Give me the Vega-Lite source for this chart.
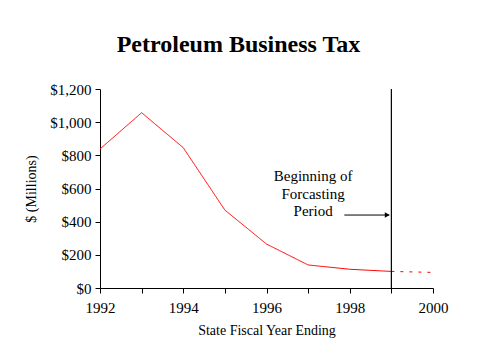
{
  "$schema": "https://vega.github.io/schema/vega-lite/v6.json",
  "autosize": "none",
  "width": 333,
  "height": 199,
  "padding": {"left": 100, "top": 89, "right": 46, "bottom": 71},
  "background": "white",
  "title": {
    "text": "Petroleum Business Tax",
    "font": "Liberation Serif",
    "fontSize": 24,
    "fontWeight": "bold",
    "color": "black",
    "anchor": "middle",
    "dx": -28,
    "offset": 25
  },
  "config": {
    "view": {"stroke": null},
    "font": "Liberation Serif",
    "axis": {
      "domainColor": "black",
      "tickColor": "black",
      "labelColor": "black",
      "titleColor": "black",
      "labelFont": "Liberation Serif",
      "titleFont": "Liberation Serif",
      "labelFontSize": 15,
      "titleFontSize": 14,
      "titleFontWeight": "normal",
      "grid": false,
      "tickSize": 5
    }
  },
  "encoding": {
    "x": {
      "field": "year", "type": "quantitative",
      "scale": {"domain": [1992, 2000], "nice": false, "zero": false},
      "axis": {
        "values": [1992, 1993, 1994, 1995, 1996, 1997, 1998, 1999, 2000],
        "labelExpr": "datum.value % 2 == 0 ? format(datum.value, 'd') : ''",
        "title": "State Fiscal Year Ending",
        "labelPadding": 7,
        "titlePadding": 8,
        "labelFlush": false,
        "labelOverlap": false
      }
    },
    "y": {
      "field": "value", "type": "quantitative",
      "scale": {"domain": [0, 1200], "nice": false},
      "axis": {
        "values": [0, 200, 400, 600, 800, 1000, 1200],
        "format": "$,d",
        "title": "$ (Millions)",
        "labelPadding": 4,
        "titlePadding": 11,
        "labelOverlap": false,
        "labelFlush": false
      }
    }
  },
  "layer": [
    {
      "data": {"values": [
        {"year": 1992, "value": 838, "series": "actual"},
        {"year": 1993, "value": 1057, "series": "actual"},
        {"year": 1994, "value": 846, "series": "actual"},
        {"year": 1995, "value": 470, "series": "actual"},
        {"year": 1996, "value": 265, "series": "actual"},
        {"year": 1997, "value": 139, "series": "actual"},
        {"year": 1998, "value": 113, "series": "actual"},
        {"year": 1999, "value": 100, "series": "actual"},
        {"year": 1999, "value": 100, "series": "forecast"},
        {"year": 2000, "value": 94, "series": "forecast"}
      ]},
      "mark": {"type": "line", "color": "red", "strokeWidth": 1},
      "encoding": {
        "detail": {"field": "series"},
        "strokeDash": {
          "field": "series", "type": "nominal",
          "scale": {"domain": ["actual", "forecast"], "range": [[1, 0], [3, 6]]},
          "legend": null
        }
      }
    },
    {
      "data": {"values": [{"year": 1999, "value": 1200, "value2": 0}]},
      "mark": {"type": "rule", "color": "black", "strokeWidth": 1.2},
      "encoding": {
        "y2": {"field": "value2"}
      }
    },
    {
      "data": {"values": [{"year": 1997.87, "year2": 1998.95, "value": 440}]},
      "mark": {"type": "rule", "color": "black", "strokeWidth": 1},
      "encoding": {
        "x2": {"field": "year2"}
      }
    },
    {
      "data": {"values": [{"year": 1998.9, "value": 440}]},
      "mark": {"type": "point", "shape": "triangle-right", "filled": true, "color": "black", "size": 30, "opacity": 1},
      "encoding": {}
    },
    {
      "data": {"values": [
        {"year": 1997.12, "value": 675, "label": "Beginning of"},
        {"year": 1997.12, "value": 567, "label": "Forcasting"},
        {"year": 1997.12, "value": 462, "label": "Period"}
      ]},
      "mark": {"type": "text", "font": "Liberation Serif", "fontSize": 15, "color": "black", "align": "center", "baseline": "middle"},
      "encoding": {
        "text": {"field": "label"}
      }
    }
  ]
}
